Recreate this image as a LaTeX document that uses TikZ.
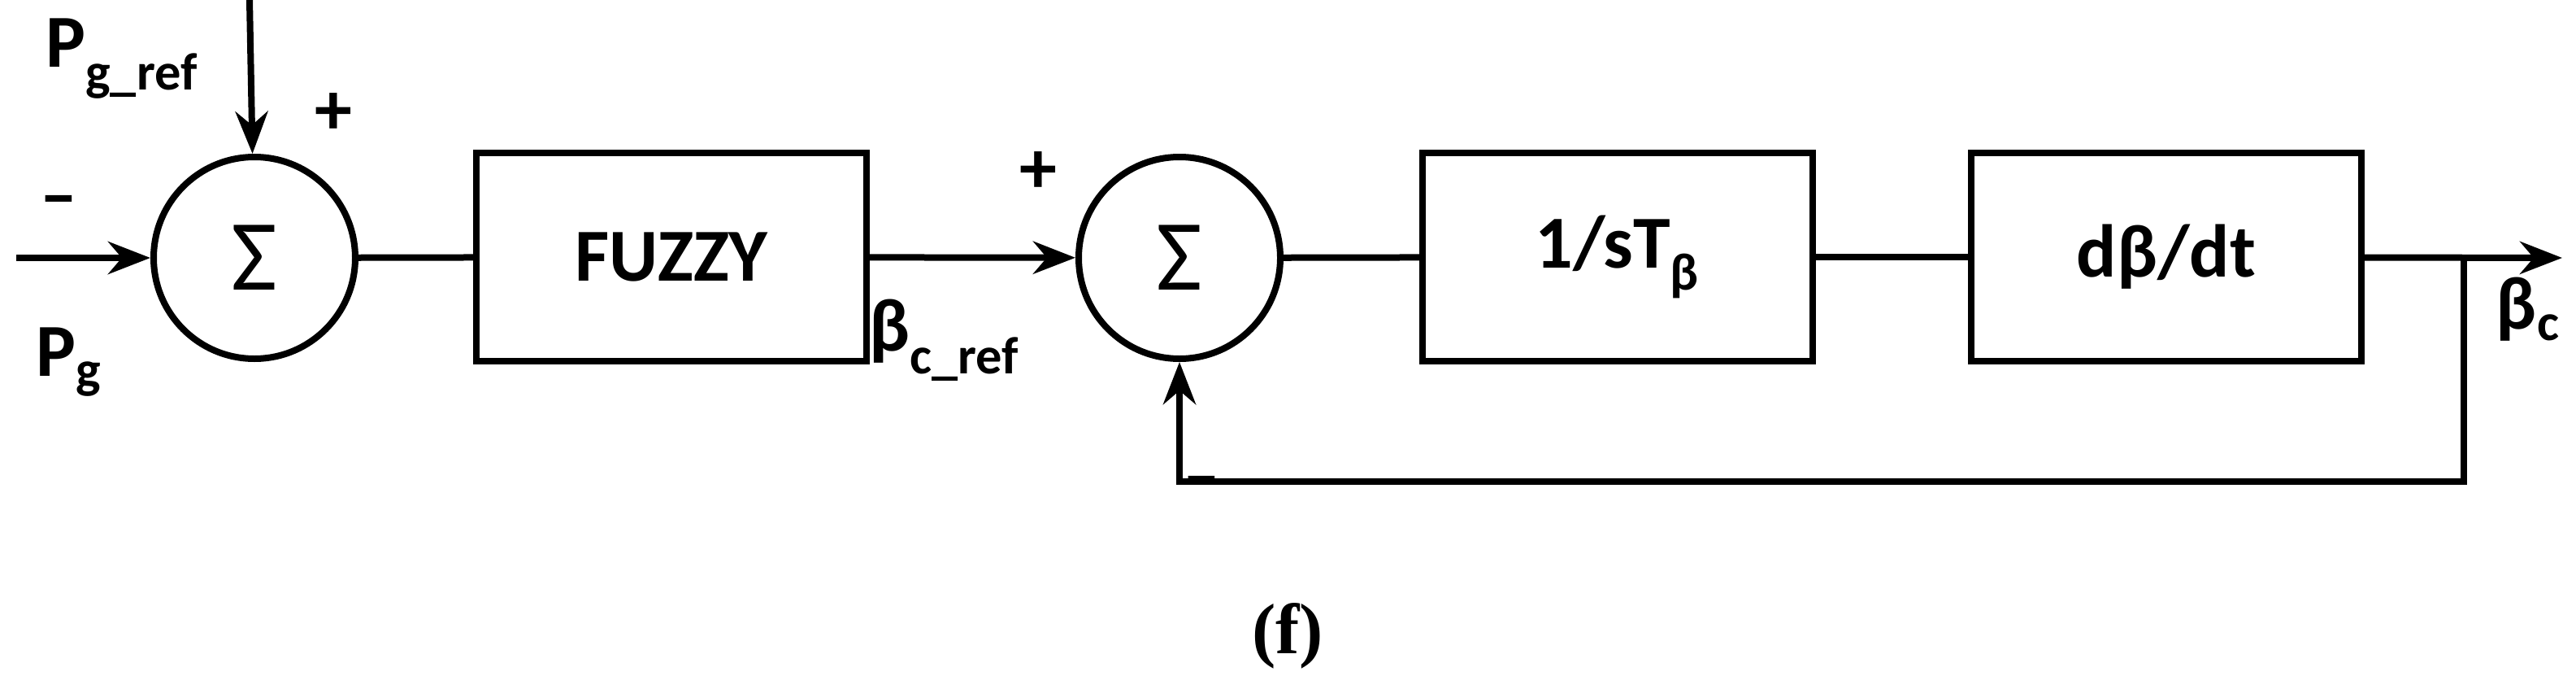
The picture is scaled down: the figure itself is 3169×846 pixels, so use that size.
\documentclass[tikz,border=0pt]{standalone}
\usepackage{fontspec}
\setmainfont{Carlito}
\newfontfamily\capfont{Liberation Serif}
\usetikzlibrary{positioning, arrows.meta, calc}

\begin{document}
\begin{tikzpicture}[x=0.5pt,y=-0.5pt, line width=4pt, >={Stealth[length=26pt,width=20pt]},
	font=\fontsize{46}{52}\selectfont\bfseries,
	blk/.style={draw, minimum width=240pt, minimum height=128pt, inner sep=0pt},
	sumnode/.style={draw, circle, minimum size=124pt, inner sep=0pt, font=\fontsize{62}{66}\selectfont}]
		\useasboundingbox (0,0) rectangle (3169,846);
		\node[sumnode] (sum1) at (313,317) {Σ};
		\node[blk] (fuzzy) at (826,316) {FUZZY};
		\node[sumnode] (sum2) at (1451,317) {Σ};
		\node[blk] (integ) at (1990,316) {1/sT\textsubscript{β}};
		\node[blk] (deriv) at (2665,316) {dβ/dt};
		\coordinate (in) at (20,317);
		\coordinate (top) at (307,0);
		\coordinate (out) at (3152,317);
		\coordinate (branch) at (3031,317);
		\coordinate (back) at (3031,592);
		
		\draw[->] (in) -- (sum1);
		\draw[->] (top) -- (sum1);
		\draw (sum1) -- (fuzzy);
		\draw[->] (fuzzy) -- (sum2);
		\draw (sum2) -- (integ);
		\draw (integ) -- (deriv);
		\draw[->] (deriv) -- (out);
		\draw[->] (branch) -- (back) -| (sum2);
		
		\node (pg) at (85,445) {P\textsubscript{g}};
		\node (minus1) at (72,255) {\textendash};
		\node (pgref) at (150,72) {P\textsubscript{g\_ref}};
		\node (plus1) at (410,140) {+};
		\node (plus2) at (1277,212) {+};
		\node (bref) at (1162,418) {β\textsubscript{c\_ref}};
		\node (minus2) at (1478,600) {\textendash};
		\node (bc) at (3110,380) {β\textsubscript{c}};
		\node[font=\capfont\fontsize{44}{48}\selectfont\bfseries] (cap) at (1584,782) {(f)};
	\end{tikzpicture}
\end{document}
